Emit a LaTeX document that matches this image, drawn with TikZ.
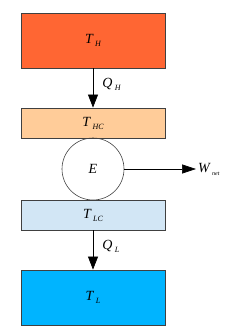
\documentclass[tikz,border=0pt]{standalone}
\usepackage{fontspec}
\setmainfont{Liberation Serif}
\usetikzlibrary{arrows.meta}
\definecolor{hot}{HTML}{FF6633}
\definecolor{hotc}{HTML}{FFCC99}
\definecolor{coldc}{HTML}{D2E6F5}
\definecolor{cold}{HTML}{00B4FF}
\definecolor{edge}{HTML}{404040}
\newcommand{\sbx}[1]{\,{\fontsize{8}{8}\selectfont\raisebox{-3pt}{#1}}}
\begin{document}
\begin{tikzpicture}[x=1pt,y=-1pt,
  res/.style={draw=edge,line width=0.8pt,minimum width=144pt,inner sep=0pt,font=\fontsize{14}{15}\selectfont\itshape},
  flow/.style={-{Triangle[length=13pt,width=10pt]},line width=0.7pt,black},
  lbl/.style={font=\fontsize{14}{15}\selectfont\itshape,inner sep=0pt}]
\useasboundingbox (0,0) rectangle (247,331);
\node[res,fill=hot,minimum height=55pt] (TH) at (93,40.5) {T\sbx{H}};
\node[res,fill=hotc,minimum height=30pt] (THC) at (93,123) {T\sbx{HC}};
\node[draw=edge,line width=0.6pt,circle,minimum size=62pt,inner sep=0pt,font=\fontsize{14}{15}\selectfont\itshape] (E) at (93,169) {E};
\node[res,fill=coldc,minimum height=30pt] (TLC) at (93,215) {T\sbx{LC}};
\node[res,fill=cold,minimum height=55pt] (TL) at (93,297.5) {T\sbx{L}};
\coordinate (W) at (196,169);
\draw[flow] (TH.south) -- (THC.north) node[pos=0.4,right=9pt,lbl] {Q\sbx{H}};
\draw[flow] (TLC.south) -- (TL.north) node[pos=0.4,right=9pt,lbl] {Q\sbx{L}};
\draw[-{Triangle[length=14pt,width=9pt]},line width=0.6pt] (E.east) -- (W);
\node[lbl,anchor=west] (Wn) at (198,169) {W\sbx{\fontsize{6}{6}\selectfont net}};
\end{tikzpicture}
\end{document}
